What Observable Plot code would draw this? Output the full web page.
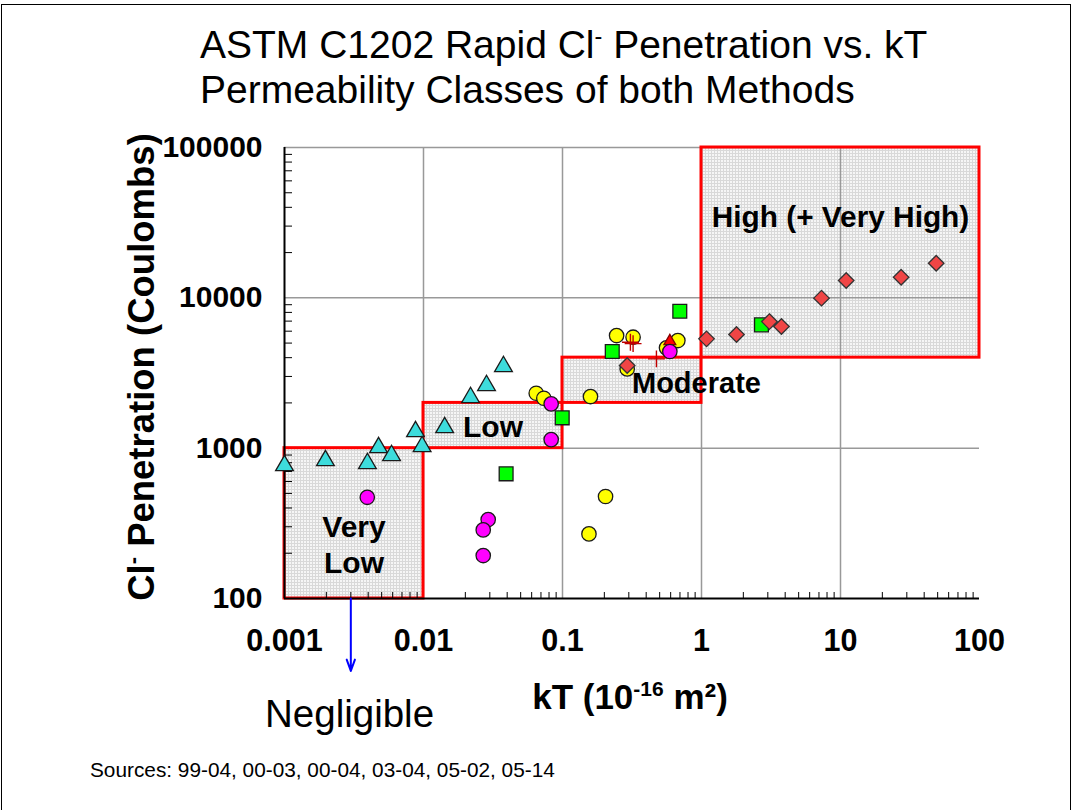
<!DOCTYPE html>
<html><head><meta charset="utf-8">
<script src="https://cdn.jsdelivr.net/npm/d3@7"></script>
<script src="https://cdn.jsdelivr.net/npm/@observablehq/plot@0.6"></script>
<style>
body{margin:0;background:#fff;}
#wrap{position:relative;width:1074px;height:810px;overflow:hidden;font-family:"Liberation Sans",Arial,Helvetica,sans-serif;color:#000;background:#fff;}
#frame{position:absolute;left:1px;top:4px;width:1070px;height:820px;border:1.5px solid #000;box-sizing:border-box;pointer-events:none;}
.t{position:absolute;white-space:nowrap;}
sup{font-size:0.6em;vertical-align:0.62em;line-height:0;}
#title{left:200px;top:22px;font-size:39px;line-height:45px;}
#ylab{left:142px;top:367px;transform:translate(-50%,-50%) rotate(-90deg);font-weight:bold;font-size:36.5px;}
#xlab{left:630px;top:697px;transform:translate(-50%,-50%);font-weight:bold;font-size:35px;}
#negl{left:265px;top:692px;font-size:38.5px;line-height:44px;}
#src{left:90px;top:758px;font-size:20.8px;line-height:24px;}
</style></head><body>
<div id="wrap"></div>
<script>
// ---- data (kT in 1e-16 m², charge in Coulombs) ----
const xTickValues = [0.001, 0.01, 0.1, 1, 10, 100];
const xTickLabels = ["0.001", "0.01", "0.1", "1", "10", "100"];
const yTickValues = [100, 1000, 10000, 100000];
const yTickLabels = ["100", "1000", "10000", "100000"];

const classNames = ["Very\nLow", "Low", "Moderate", "High (+ Very High)"];
const classKT = [[0.001, 0.01], [0.01, 0.1], [0.1, 1], [1, 100]];
const classQ = [[100, 1000], [1000, 2000], [2000, 4000], [4000, 100000]];

const cyanTriangles = [[0.001, 766], [0.00197, 827], [0.00395, 790], [0.00475, 1009], [0.00589, 893],
  [0.00876, 1289], [0.00977, 1025], [0.0142, 1371], [0.0218, 2171], [0.0284, 2609], [0.0376, 3491]];
const yellowCircles = [[0.0647, 2319], [0.0734, 2148], [0.159, 2205], [0.204, 477], [0.155, 269],
  [0.245, 5612], [0.322, 5470], [0.292, 3368], [0.560, 4650], [0.676, 5200]];
const greenSquares = [[0.0995, 1591], [0.0393, 675], [0.698, 8150], [0.228, 4394], [2.70, 6610]];
const redTriangles = [[0.592, 5145]];
const magentaCircles = [[0.00394, 471], [0.0829, 1972], [0.0829, 1140], [0.0292, 335], [0.0269, 286],
  [0.0269, 193], [0.592, 4394]];
const redCrosses = [[0.308, 5068], [0.322, 4960], [0.474, 3927]];
const redDiamonds = [[0.292, 3545], [1.087, 5334], [1.786, 5700], [3.08, 6950], [3.76, 6440],
  [7.30, 9950], [10.99, 13030], [27.3, 13710], [48.8, 16990]];

const negligibleArrow = [{x: 0.003, q1: 100, q2: 33}];

// ---- derived tables ----
const boxes = classNames.map((name, i) => ({name, x1: classKT[i][0], x2: classKT[i][1], y1: classQ[i][0], y2: classQ[i][1],
  cx: Math.sqrt(classKT[i][0] * classKT[i][1]), cy: Math.sqrt(classQ[i][0] * classQ[i][1])}));
const toRows = arr => arr.map(([kt, q]) => ({kt, q}));
const decades = [0.001, 0.01, 0.1, 1, 10];
const xMinor = decades.flatMap(d => [2,3,4,5,6,7,8,9].map(k => k * d));
const yMinor = [100, 1000, 10000].flatMap(d => [2,3,4,5,6,7,8,9].map(k => k * d));

const ff = '"Liberation Sans", Arial, Helvetica, sans-serif';

const series = [
  {data: cyanTriangles, symbol: "triangle", r: 6.6, fill: "#3ddcdc", stroke: "#1a1a1a"},
  {data: yellowCircles, symbol: "circle", r: 7.2, fill: "#ffff00", stroke: "#1a1a1a"},
  {data: greenSquares, symbol: "square", r: 7.8, fill: "#00ff00", stroke: "#1a1a1a"},
  {data: redTriangles, symbol: "triangle", r: 4.4, fill: "#ff0000", stroke: "#800000"},
  {data: magentaCircles, symbol: "circle", r: 7.2, fill: "#ff00ff", stroke: "#1a1a1a"},
  {data: redCrosses, symbol: "plus", r: 5.5, fill: "none", stroke: "#c00000"},
  {data: redDiamonds, symbol: "diamond2", r: 7, fill: "#f04545", stroke: "#333333"}
];

function defsMark() {
  const ns = "http://www.w3.org/2000/svg";
  const g = document.createElementNS(ns, "defs");
  const p = document.createElementNS(ns, "pattern");
  p.setAttribute("id", "boxpat"); p.setAttribute("patternUnits", "userSpaceOnUse");
  p.setAttribute("width", "3"); p.setAttribute("height", "3");
  const r = document.createElementNS(ns, "rect");
  r.setAttribute("width", "3"); r.setAttribute("height", "3"); r.setAttribute("fill", "#f6f6f6");
  const l = document.createElementNS(ns, "path");
  l.setAttribute("d", "M0 0.5H3M0.5 0V3"); l.setAttribute("stroke", "#d9d9d9"); l.setAttribute("stroke-width", "1");
  p.appendChild(r); p.appendChild(l); g.appendChild(p);
  return g;
}

const chart = Plot.plot({
  width: 1074, height: 810,
  marginLeft: 284, marginRight: 95, marginTop: 147, marginBottom: 212,
  style: {fontFamily: ff, background: "transparent", overflow: "visible"},
  x: {type: "log", domain: [0.001, 100]},
  y: {type: "log", domain: [100, 100000]},
  marks: [
    defsMark,
    Plot.rect(boxes, {x1: "x1", x2: "x2", y1: "y1", y2: "y2", fill: "url(#boxpat)"}),
    Plot.ruleX([0.01, 0.1, 1, 10], {stroke: "#999", strokeWidth: 1.5}),
    Plot.ruleY([1000, 10000, 100000], {stroke: "#999", strokeWidth: 1.5}),
    Plot.rect(boxes, {x1: "x1", x2: "x2", y1: "y1", y2: "y2", fill: "none", stroke: "#ff0000", strokeWidth: 3}),
    Plot.ruleY([100], {stroke: "#000", strokeWidth: 2}),
    Plot.ruleX([0.001], {stroke: "#000", strokeWidth: 2}),
    Plot.axisX({ticks: xMinor, tickSize: 6, dy: -6, tickFormat: () => "", label: null, stroke: "#000", strokeWidth: 1}),
    Plot.axisY({ticks: yMinor, tickSize: 8, dx: 8, tickFormat: () => "", label: null, stroke: "#000", strokeWidth: 1}),
    Plot.axisX({ticks: xTickValues, tickSize: 0, tickPadding: 31, tickFormat: d => xTickLabels[xTickValues.indexOf(d)],
      fontSize: 30.5, fontWeight: "bold", fill: "#000", label: null}),
    Plot.axisY({ticks: yTickValues, tickSize: 0, tickPadding: 22, tickFormat: d => yTickLabels[yTickValues.indexOf(d)],
      fontSize: 30, fontWeight: "bold", fill: "#000", label: null}),
    Plot.text(boxes.filter(b => b.name === "Very\nLow"), {x: "cx", y: "cy", text: "name", dy: 20, lineHeight: 1.2, fontSize: 30, fontWeight: "bold", fill: "#000"}),
    Plot.text(boxes.filter(b => b.name === "Low"), {x: "cx", y: "cy", text: "name", dy: 2, fontSize: 30, fontWeight: "bold", fill: "#000"}),
    Plot.text(boxes.filter(b => b.name === "Moderate"), {x: "cx", y: "cy", text: "name", dy: 3, textAnchor: "start", fontSize: 29, fontWeight: "bold", fill: "#000"}),
    Plot.text(boxes.filter(b => b.name.startsWith("High")), {x: "cx", y: "cy", text: "name", dy: -35, fontSize: 29.8, fontWeight: "bold", fill: "#000"}),
    ...series.map(s => Plot.dot(toRows(s.data), {x: "kt", y: "q", symbol: () => s.symbol, r: s.r, fill: s.fill, stroke: s.stroke, strokeWidth: s.symbol === "plus" ? 1.4 : 1.3})),
    Plot.arrow(negligibleArrow, {x1: "x", x2: "x", y1: "q1", y2: "q2", stroke: "#0000ff", strokeWidth: 2, headLength: 9, headAngle: 40})
  ]
});

const wrap = document.getElementById("wrap");
wrap.appendChild(chart);
wrap.insertAdjacentHTML("beforeend", `
<div id="frame"></div>
<div class="t" id="title">ASTM C1202 Rapid Cl<sup>-</sup> Penetration vs. kT<br>Permeability Classes of both Methods</div>
<div class="t" id="ylab">Cl<sup>-</sup> Penetration (Coulombs)</div>
<div class="t" id="xlab">kT (10<sup>-16</sup> m²)</div>
<div class="t" id="negl">Negligible</div>
<div class="t" id="src">Sources: 99-04, 00-03, 00-04, 03-04, 05-02, 05-14</div>
`);
</script>
</body></html>
